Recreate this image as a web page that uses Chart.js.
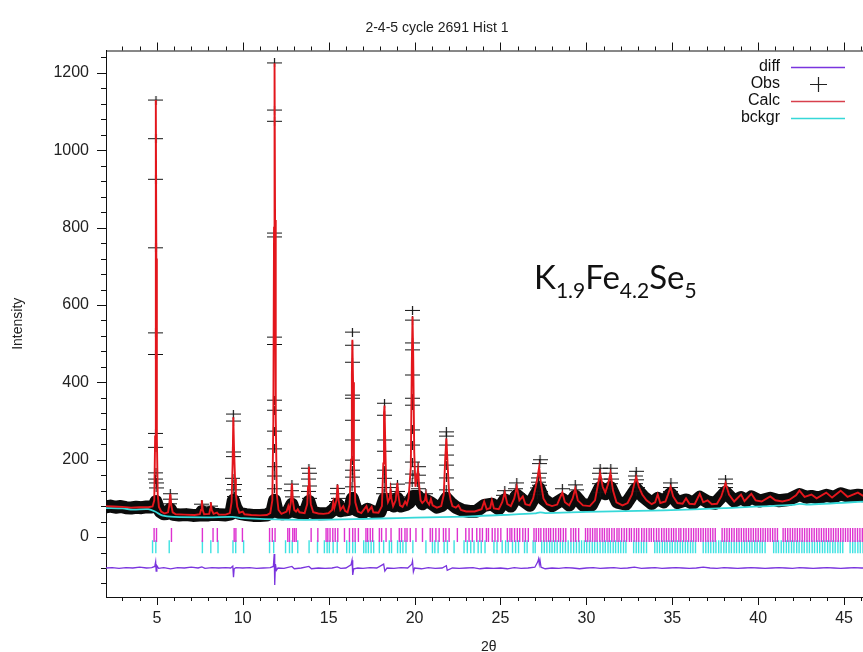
<!DOCTYPE html>
<html>
<head>
<meta charset="utf-8">
<script src="https://cdn.jsdelivr.net/npm/chart.js@4.4.1/dist/chart.umd.min.js"></script>
<style>
  html, body { margin: 0; padding: 0; overflow: hidden; background: #fff; }
  #wrap { position: relative; width: 880px; height: 652px; }
  #formula {
    position: absolute; left: 534px; top: 256px;
    font-family: Lato, "Open Sans", sans-serif; font-size: 33px; color: #111;
    white-space: nowrap;
  }
  #formula span { font-size: 21px; position: relative; top: 9px; }
</style>
</head>
<body>
<div id="wrap">
  <canvas id="rietveld"></canvas>
  <div id="formula">K<span>1.9</span>Fe<span>4.2</span>Se<span>5</span></div>
</div>
<script>
// calculated profile, [2theta, intensity]
const calcCurve = [
  [2.04,80],[2.5,79],[3.0,78],[3.5,76],[4.0,77],[4.5,77],[4.75,79],
  [4.85,95],[4.9,260],[4.93,700],[4.95,1130],[4.97,720],[5.0,260],[5.05,110],[5.12,78],[5.25,66],[5.45,61],
  [5.65,64],[5.72,82],[5.78,112],[5.84,82],[5.92,64],[6.1,59],[6.6,58],[7.2,57],[7.5,59],
  [7.57,70],[7.62,95],[7.67,70],[7.75,59],[8.05,60],[8.1,72],[8.14,90],[8.19,70],[8.3,60],[8.5,63],[8.6,58],
  [9.0,58],[9.25,62],[9.35,90],[9.41,190],[9.45,310],[9.49,230],[9.55,150],[9.6,110],[9.68,78],[9.8,63],[10.0,66],[10.1,59],
  [10.5,57],[11.0,56],[11.4,57],[11.6,62],[11.72,95],[11.78,300],[11.82,800],[11.85,1225],[11.88,820],[11.92,310],[11.98,110],[12.08,70],[12.25,60],
  [12.55,66],[12.65,80],[12.72,68],[12.8,90],[12.86,138],[12.92,92],[13.0,70],[13.1,66],[13.2,72],[13.3,64],[13.6,62],
  [13.75,85],[13.8,130],[13.85,182],[13.9,130],[13.96,85],[14.1,64],[14.4,61],[14.7,60],[15.0,62],[15.2,70],[15.27,90],[15.33,75],
  [15.45,95],[15.52,135],[15.58,95],[15.68,70],[15.85,80],[15.95,68],[16.1,64],[16.22,85],
  [16.3,200],[16.35,420],[16.38,510],[16.42,400],[16.47,190],[16.55,90],[16.7,66],[16.9,62],[17.2,80],[17.3,66],[17.5,78],[17.6,64],[17.9,63],[18.1,80],
  [18.18,190],[18.22,320],[18.25,340],[18.29,250],[18.35,120],[18.45,90],[18.55,100],[18.6,122],[18.65,100],[18.75,80],[18.9,95],
  [18.96,125],[19.0,140],[19.05,110],[19.15,82],[19.3,78],[19.45,92],[19.55,84],[19.65,100],
  [19.78,180],[19.84,450],[19.88,570],[19.92,470],[19.98,220],[20.05,130],[20.15,160],[20.2,175],[20.26,135],[20.35,95],[20.45,88],
  [20.6,95],[20.66,110],[20.72,92],[20.85,84],[20.95,98],[21.05,82],[21.3,76],[21.55,80],[21.7,110],
  [21.78,200],[21.85,255],[21.92,190],[22.0,120],[22.1,96],[22.2,80],[22.4,76],[22.55,82],[22.7,70],[23.0,66],[23.5,66],
  [23.9,72],[24.05,92],[24.2,72],[24.4,75],[24.5,95],[24.62,74],[24.9,72],[25.1,90],[25.25,115],[25.4,85],[25.6,80],
  [25.8,100],[25.95,130],[26.1,95],[26.3,105],[26.45,85],[26.7,82],[26.9,100],[27.05,130],[27.18,160],[27.25,180],[27.35,140],
  [27.5,100],[27.7,85],[28.0,80],[28.3,84],[28.45,100],[28.6,115],[28.75,90],[29.0,82],[29.2,100],[29.35,125],[29.5,95],
  [29.8,82],[30.2,80],[30.5,95],[30.65,130],[30.8,165],[30.95,130],[31.1,115],[31.25,135],[31.4,165],[31.55,120],[31.75,90],
  [32.1,82],[32.4,88],[32.65,110],[32.8,140],[32.9,155],[33.05,130],[33.25,110],[33.5,95],[33.8,85],[34.0,90],[34.15,110],
  [34.3,88],[34.6,92],[34.75,110],[34.9,130],[35.05,105],[35.3,88],[35.6,86],[35.8,100],[36.0,86],[36.3,85],[36.6,112],
  [36.8,90],[37.05,95],[37.3,85],[37.6,86],[37.85,105],[38.1,140],[38.3,110],[38.6,92],[39.0,110],[39.2,93],[39.6,112],
  [39.85,95],[40.2,92],[40.7,105],[41.0,95],[41.4,92],[41.8,96],[42.2,108],[42.4,120],[42.7,104],[43.1,110],[43.4,100],
  [43.96,115],[44.3,102],[44.8,120],[45.2,104],[45.8,115],[46.2,104],[46.6,106]
];

// refined background
const bckgrCurve = [
  [2.04,75],[3.0,74],[3.6,71],[4.5,72],[4.9,66],[5.3,56],[6.0,52],[8.0,51],[9.4,52],[10.0,49],[12.5,45],
  [15.0,45],[18.0,48],[20.0,50],[23.0,53],[25.0,57],[27.0,61],[27.3,64],[27.6,62],[30.0,65],[34.5,69],
  [38.0,75],[42.0,83],[42.4,86],[42.8,84],[46.6,93]
];

// level of the dense observed points between peaks
const obsBand = [
  [2.04,78],[2.3,80],[2.6,77],[2.9,79],[3.2,76],[3.5,75],[3.8,77],[4.1,76],[4.4,78],[4.7,78],[4.85,82],[4.95,92],
  [5.05,78],[5.2,66],[5.4,60],[5.6,61],[5.78,72],[5.95,59],[6.3,57],[6.7,58],[7.1,56],[7.5,57],[7.62,66],[7.72,57],
  [8.0,57],[8.14,64],[8.25,58],[8.6,58],[9.0,57],[9.3,60],[9.45,95],[9.6,75],[9.8,61],[10.2,58],[10.6,56],[11.0,56],
  [11.4,57],[11.7,66],[11.85,95],[12.0,66],[12.3,60],[12.6,63],[12.86,85],[13.0,66],[13.3,63],[13.6,61],[13.85,92],
  [14.05,64],[14.5,60],[15.0,61],[15.3,72],[15.52,85],[15.7,68],[15.9,70],[16.2,72],[16.38,100],[16.6,70],[17.0,63],
  [17.25,72],[17.6,65],[18.0,66],[18.25,98],[18.45,84],[18.6,92],[18.8,80],[19.0,100],[19.2,80],[19.5,84],[19.7,90],
  [19.9,105],[20.2,105],[20.45,86],[20.66,95],[20.95,88],[21.3,77],[21.6,82],[21.85,100],[22.1,88],[22.4,77],[22.8,69],
  [23.2,66],[23.6,67],[24.05,82],[24.5,85],[24.9,73],[25.25,96],[25.6,80],[25.95,108],[26.3,95],[26.7,82],[27.05,110],
  [27.25,125],[27.5,98],[28.0,81],[28.6,98],[29.0,83],[29.35,106],[29.8,83],[30.3,83],[30.8,128],[31.1,112],[31.4,128],
  [31.8,90],[32.3,85],[32.9,125],[33.3,105],[33.8,87],[34.15,100],[34.5,91],[34.9,112],[35.3,89],[35.8,96],[36.2,87],
  [36.6,103],[37.05,91],[37.5,87],[38.1,116],[38.6,93],[39.0,102],[39.3,94],[39.6,104],[40.1,93],[40.7,100],[41.2,94],
  [41.8,97],[42.4,110],[42.8,103],[43.1,105],[43.5,101],[43.96,108],[44.4,103],[44.8,112],[45.3,105],[45.8,108],[46.6,105]
];

// observed points standing clear of the band
const obsPeaks = [
  [4.95,1130],[4.95,1030],[4.95,925],[4.95,748],[4.95,528],[4.95,472],[4.95,268],[4.95,232],[4.95,166],[4.96,127],[4.92,150],[4.98,140],
  [5.78,112],[5.8,98],[5.76,86],[7.62,85],[8.14,80],
  [9.45,318],[9.46,300],[9.44,220],[9.47,208],[9.43,152],[9.5,136],[9.48,122],[9.52,105],
  [11.85,1226],[11.85,1104],[11.85,1075],[11.85,786],[11.85,776],[11.85,517],[11.85,498],[11.85,354],[11.85,328],
  [11.85,274],[11.85,228],[11.85,182],[11.86,158],[11.84,125],
  [12.86,137],[12.85,120],[12.88,104],
  [13.85,178],[13.86,165],[13.84,150],[13.87,132],[13.83,118],[13.88,100],
  [15.5,126],[15.52,112],[15.55,100],[15.48,92],
  [16.38,530],[16.38,496],[16.38,452],[16.38,367],[16.38,359],[16.38,302],[16.38,251],[16.38,199],[16.38,173],[16.4,155],[16.36,130],
  [18.25,346],[18.25,315],[18.25,251],[18.25,222],[18.25,173],[18.24,152],[18.27,128],[18.22,112],
  [18.6,128],[18.62,112],[19.0,137],[19.02,118],[18.98,104],
  [19.88,586],[19.88,561],[19.88,502],[19.88,484],[19.88,419],[19.88,359],[19.88,341],[19.88,277],[19.88,238],[19.88,194],[19.9,163],[19.86,140],
  [20.2,182],[20.22,160],[20.18,140],[20.25,125],[20.66,112],
  [21.85,272],[21.85,261],[21.85,238],[21.85,212],[21.85,186],[21.86,153],[21.84,122],
  [25.25,120],[25.2,108],[25.95,140],[25.9,125],[26.0,112],
  [27.3,200],[27.28,190],[27.25,165],[27.22,153],[27.2,142],[27.27,134],[27.18,127],[27.3,118],[27.15,110],
  [28.6,125],[29.35,135],[29.4,122],
  [30.8,178],[30.78,165],[30.82,150],[30.75,138],[30.85,125],[30.8,115],
  [31.42,178],[31.4,165],[31.45,150],[31.38,138],[31.4,125],
  [32.9,170],[32.88,158],[32.92,148],[32.85,138],[32.95,128],[32.9,118],
  [34.92,140],[34.9,128],[34.88,118],
  [38.1,150],[38.12,138],[38.08,128],[38.1,118]
];

// obs - calc, offset below the reflection markers
const diffCurve = [
  [2.04,-80],[2.4,-79],[2.8,-81],[3.2,-79],[3.6,-80],[4.0,-78],[4.4,-80],[4.7,-79],[4.88,-76],[4.93,-64],[4.96,-88],[5.0,-74],
  [5.1,-81],[5.4,-79],[5.8,-82],[6.2,-79],[6.6,-80],[7.0,-78],[7.4,-80],[7.62,-77],[7.8,-81],[8.2,-79],[8.6,-80],[9.0,-79],
  [9.3,-80],[9.42,-75],[9.46,-104],[9.5,-82],[9.6,-79],[10.0,-80],[10.4,-79],[10.8,-81],[11.2,-80],[11.6,-79],[11.78,-76],
  [11.83,-44],[11.86,-124],[11.9,-70],[11.96,-86],[12.05,-80],[12.4,-81],[12.86,-76],[13.0,-82],[13.4,-80],[13.85,-76],
  [14.0,-82],[14.4,-80],[14.8,-81],[15.2,-80],[15.5,-77],[15.7,-81],[16.0,-80],[16.3,-72],[16.36,-60],[16.4,-98],[16.46,-82],
  [16.7,-80],[17.0,-81],[17.4,-79],[17.8,-80],[18.2,-70],[18.27,-88],[18.4,-80],[18.8,-81],[19.2,-79],[19.6,-80],[19.84,-70],
  [19.88,-62],[19.93,-90],[20.0,-80],[20.4,-82],[20.8,-79],[21.2,-81],[21.6,-80],[21.85,-74],[21.9,-86],[22.2,-80],[22.6,-81],
  [23.0,-80],[23.4,-79],[23.8,-82],[24.2,-80],[24.6,-81],[25.0,-80],[25.4,-82],[25.8,-79],[26.2,-81],[26.6,-80],[27.0,-78],
  [27.17,-64],[27.22,-56],[27.26,-70],[27.3,-60],[27.36,-78],[27.6,-82],[28.0,-80],[28.4,-81],[28.8,-79],[29.2,-80],[29.6,-82],
  [30.0,-80],[30.4,-79],[30.8,-81],[31.2,-80],[31.6,-79],[32.0,-81],[32.4,-80],[32.8,-78],[33.2,-81],[33.6,-80],[34.0,-79],
  [34.4,-81],[34.8,-80],[35.2,-79],[35.6,-80],[36.0,-81],[36.4,-80],[36.8,-78],[37.2,-80],[37.6,-81],[38.0,-79],[38.4,-80],
  [38.8,-81],[39.2,-80],[39.6,-79],[40.0,-80],[40.4,-81],[40.8,-80],[41.2,-79],[41.6,-80],[42.0,-81],[42.4,-79],[42.8,-80],
  [43.2,-81],[43.6,-80],[44.0,-79],[44.4,-80],[44.8,-81],[45.2,-80],[45.6,-79],[46.0,-80],[46.6,-80]
];

// reflection positions, phase 1 (magenta) and phase 2 (cyan)
const reflPhase1 = [
  4.84,4.98,5.85,7.65,8.27,8.52,9.50,9.60,9.98,11.56,11.72,11.88,12.62,12.72,12.91,13.01,13.11,13.98,14.37,14.85,
  14.95,15.08,15.24,15.38,15.53,15.92,16.21,16.40,16.54,16.73,17.17,17.27,17.42,17.56,17.95,18.08,18.34,18.63,19.11,
  19.24,19.44,19.56,19.75,20.08,20.46,20.91,21.04,21.24,21.43,21.68,21.82,22.01,22.49,22.98,23.17,23.36,
  23.62,23.80,23.95,24.18,24.30,24.52,24.68,24.85,25.02,25.40,25.55,25.66,25.82,25.98,26.12,26.30,26.45,26.62,26.95,
  27.08,27.22,27.35,27.52,27.66,27.80,27.92,28.08,28.22,28.38,28.50,28.66,28.80,29.10,29.25,29.38,29.55,29.95,30.08,
  30.22,30.36,30.50,30.62,30.78,30.92,31.05,31.20,31.33,31.48,31.62,31.78,31.90,32.05,32.20,32.34,32.50,32.62,32.78,
  32.92,33.05,33.22,33.36,33.50,33.65,33.78,33.92,34.08,34.22,34.38,34.52,34.66,34.80,34.95,35.08,35.22,35.38,35.50,
  35.66,35.80,35.95,36.10,36.24,36.38,36.52,36.66,36.80,36.94,37.08,37.22,37.36,37.50,37.90,38.04,38.18,38.32,38.46,
  38.60,38.75,38.88,39.02,39.16,39.30,39.44,39.58,39.72,39.86,40.00,40.14,40.28,40.42,40.56,40.70,40.84,40.98,41.12,
  41.45,41.58,41.72,41.86,42.00,42.14,42.28,42.42,42.56,42.70,42.84,42.98,43.12,43.26,43.40,43.54,43.68,43.82,43.96,
  44.10,44.24,44.38,44.52,44.66,44.80,44.94,45.08,45.22,45.36,45.50,45.64,45.78,45.92,46.06,46.20,46.34,46.48
];
const reflPhase2 = [
  4.75,4.94,5.72,7.65,8.14,8.56,9.43,9.59,10.05,11.56,11.80,12.49,12.72,12.88,13.20,13.86,14.35,14.75,14.91,15.04,
  15.26,15.50,16.05,16.21,16.40,16.55,17.04,17.17,17.31,17.47,17.62,17.95,18.20,18.53,18.66,19.01,19.17,19.32,19.50,
  19.90,20.66,21.04,21.18,21.37,21.72,21.91,22.30,22.88,23.07,23.27,23.46,
  23.70,23.88,24.10,24.62,24.80,25.10,25.30,25.45,25.70,25.88,26.05,26.40,26.55,26.90,27.02,27.40,27.55,27.70,27.86,
  28.00,28.15,28.30,28.48,28.62,28.78,28.94,29.10,29.26,29.42,29.58,29.72,29.88,30.02,30.18,30.34,30.48,30.64,30.80,
  30.96,31.10,31.26,31.40,31.56,31.70,31.86,32.00,32.16,32.30,32.75,32.90,33.04,33.20,33.34,33.50,33.98,34.12,34.26,
  34.42,34.56,34.70,34.86,35.00,35.16,35.30,35.46,35.60,35.76,35.90,36.06,36.20,36.35,36.80,36.95,37.10,37.24,37.40,
  37.54,37.70,37.84,38.00,38.14,38.30,38.44,38.60,38.74,38.90,39.04,39.20,39.34,39.50,39.64,39.80,39.94,40.10,40.24,
  40.40,40.90,41.04,41.18,41.34,41.48,41.64,41.78,41.94,42.08,42.24,42.38,42.54,42.68,42.84,42.98,43.14,43.28,43.44,
  43.58,43.74,43.88,44.04,44.18,44.34,44.48,44.64,44.78,44.92,45.35,45.50,45.64,45.80,45.94,46.10,46.24,46.40,46.55
];
const reflRowY = [5, -25];

// labelled axis ticks
const xTickValues = [5, 10, 15, 20, 25, 30, 35, 40, 45];
const yTickValues = [0, 200, 400, 600, 800, 1000, 1200];

const FONT = "'Liberation Sans', Arial, sans-serif";
const C_DIFF = '#7a34de', C_CALC = '#e3161c', C_BCK = '#36d8d8';
const C_REF1 = '#de32d0', C_REF2 = '#3ee2e2';

const xy = arr => arr.map(p => ({x: p[0], y: p[1]}));

// GSAS style "+" marker for observed points
function plusMarker(w, h) {
  const c = document.createElement('canvas');
  c.width = w; c.height = h;
  const g = c.getContext('2d');
  g.strokeStyle = '#151515';
  g.lineWidth = 1.2;
  g.beginPath();
  g.moveTo(0, Math.floor(h / 2) + 0.5); g.lineTo(w, Math.floor(h / 2) + 0.5);
  g.moveTo(Math.floor(w / 2) + 0.5, 0); g.lineTo(Math.floor(w / 2) + 0.5, h);
  g.stroke();
  return c;
}
const obsMarker = plusMarker(15, 9);

// frame, outward tick marks on three sides, and the legend
const framePlugin = {
  id: 'frame',
  afterDraw(chart) {
    const {ctx, chartArea: a, scales: {x, y}} = chart;
    ctx.save();
    ctx.strokeStyle = '#111';
    ctx.lineWidth = 1;
    ctx.beginPath();
    ctx.moveTo(a.left, a.top + 0.5); ctx.lineTo(a.right, a.top + 0.5);
    ctx.moveTo(a.right - 0.5, a.top); ctx.lineTo(a.right - 0.5, a.bottom);
    for (let v = 3; v <= 46; v++) {
      const px = Math.round(x.getPixelForValue(v)) + 0.5;
      const len = v % 5 === 0 ? 8 : 4;
      ctx.moveTo(px, a.bottom); ctx.lineTo(px, a.bottom + len);
      ctx.moveTo(px, a.top); ctx.lineTo(px, a.top - len);
    }
    for (let v = -120; v <= 1240; v += 40) {
      const py = Math.round(y.getPixelForValue(v)) + 0.5;
      const len = v % 200 === 0 ? 9 : 5;
      ctx.moveTo(a.left, py); ctx.lineTo(a.left - len, py);
    }
    ctx.stroke();

    // legend: label then sample
    const names = ['diff', 'Obs', 'Calc', 'bckgr'];
    const cols = [C_DIFF, null, '#d8404c', C_BCK];
    ctx.font = '16px ' + FONT;
    ctx.fillStyle = '#111';
    ctx.textAlign = 'right';
    ctx.textBaseline = 'middle';
    names.forEach((n, i) => {
      const ty = 67 + i * 17;
      ctx.fillText(n, 780, ty);
      if (cols[i]) {
        ctx.strokeStyle = cols[i];
        ctx.lineWidth = 1.5;
        ctx.beginPath();
        ctx.moveTo(791, ty + 0.5); ctx.lineTo(845, ty + 0.5);
        ctx.stroke();
      } else {
        ctx.strokeStyle = '#222';
        ctx.lineWidth = 1.2;
        ctx.beginPath();
        ctx.moveTo(810, ty + 0.5); ctx.lineTo(827, ty + 0.5);
        ctx.moveTo(818.5, ty - 7); ctx.lineTo(818.5, ty + 8);
        ctx.stroke();
      }
    });
    ctx.restore();
  }
};

new Chart(document.getElementById('rietveld'), {
  type: 'scatter',
  data: {
    datasets: [
      {
        label: 'Calc', data: xy(calcCurve), showLine: true, order: 1,
        borderColor: C_CALC, borderWidth: 1.9, pointRadius: 0, tension: 0
      },
      {
        label: 'bckgr', data: xy(bckgrCurve), showLine: true, order: 2,
        borderColor: C_BCK, borderWidth: 1.8, pointRadius: 0, tension: 0.3
      },
      {
        label: 'Obs', data: xy(obsPeaks), order: 3,
        pointStyle: obsMarker, pointRadius: 7
      },
      {
        label: 'Obs band', data: xy(obsBand), showLine: true, order: 4,
        borderColor: '#0b0b0b', borderWidth: 13, pointRadius: 0,
        borderJoinStyle: 'round', borderCapStyle: 'round'
      },
      {
        label: 'diff', data: xy(diffCurve), showLine: true, order: 5,
        borderColor: C_DIFF, borderWidth: 1.3, pointRadius: 0
      },
      {
        label: 'phase 1', data: reflPhase1.map(t => ({x: t, y: reflRowY[0]})), order: 6,
        pointStyle: 'line', rotation: 90, pointRadius: 7, borderColor: C_REF1, borderWidth: 1.4
      },
      {
        label: 'phase 2', data: reflPhase2.map(t => ({x: t, y: reflRowY[1]})), order: 7,
        pointStyle: 'line', rotation: 90, pointRadius: 6.5, borderColor: C_REF2, borderWidth: 1.4
      }
    ]
  },
  options: {
    responsive: true,
    maintainAspectRatio: false,
    animation: false,
    events: [],
    layout: { padding: { left: 0, right: 6, top: 0, bottom: 0 } },
    plugins: {
      legend: { display: false },
      tooltip: { enabled: false },
      title: {
        display: true,
        text: '2-4-5 cycle 2691 Hist 1',
        color: '#222',
        font: { family: FONT, size: 14, weight: 'normal' },
        padding: { top: 20, bottom: 13.7 }
      }
    },
    scales: {
      x: {
        type: 'linear', position: 'bottom',
        min: 2.04, max: 46.6,
        grid: { display: false, drawTicks: false },
        border: { display: true, color: '#111', width: 1 },
        ticks: { padding: 12, color: '#222', font: { family: FONT, size: 16 }, callback: v => String(v) },
        afterBuildTicks(scale) { scale.ticks = xTickValues.map(v => ({value: v})); },
        title: { display: true, text: '2θ', color: '#222', font: { family: FONT, size: 14 }, padding: { top: 0, bottom: -4 } },
        afterFit(scale) { scale.height = 55; }
      },
      y: {
        type: 'linear',
        min: -155, max: 1258,
        grid: { display: false, drawTicks: false },
        border: { display: true, color: '#111', width: 1 },
        ticks: { padding: 17, color: '#222', font: { family: FONT, size: 16 }, callback: v => String(v) },
        afterBuildTicks(scale) { scale.ticks = yTickValues.map(v => ({value: v})); },
        title: { display: true, text: 'Intensity', color: '#222', font: { family: FONT, size: 14 }, padding: { top: 10, bottom: 0 } },
        afterFit(scale) { scale.width = 106; }
      }
    }
  },
  plugins: [framePlugin]
});
</script>
</body>
</html>
